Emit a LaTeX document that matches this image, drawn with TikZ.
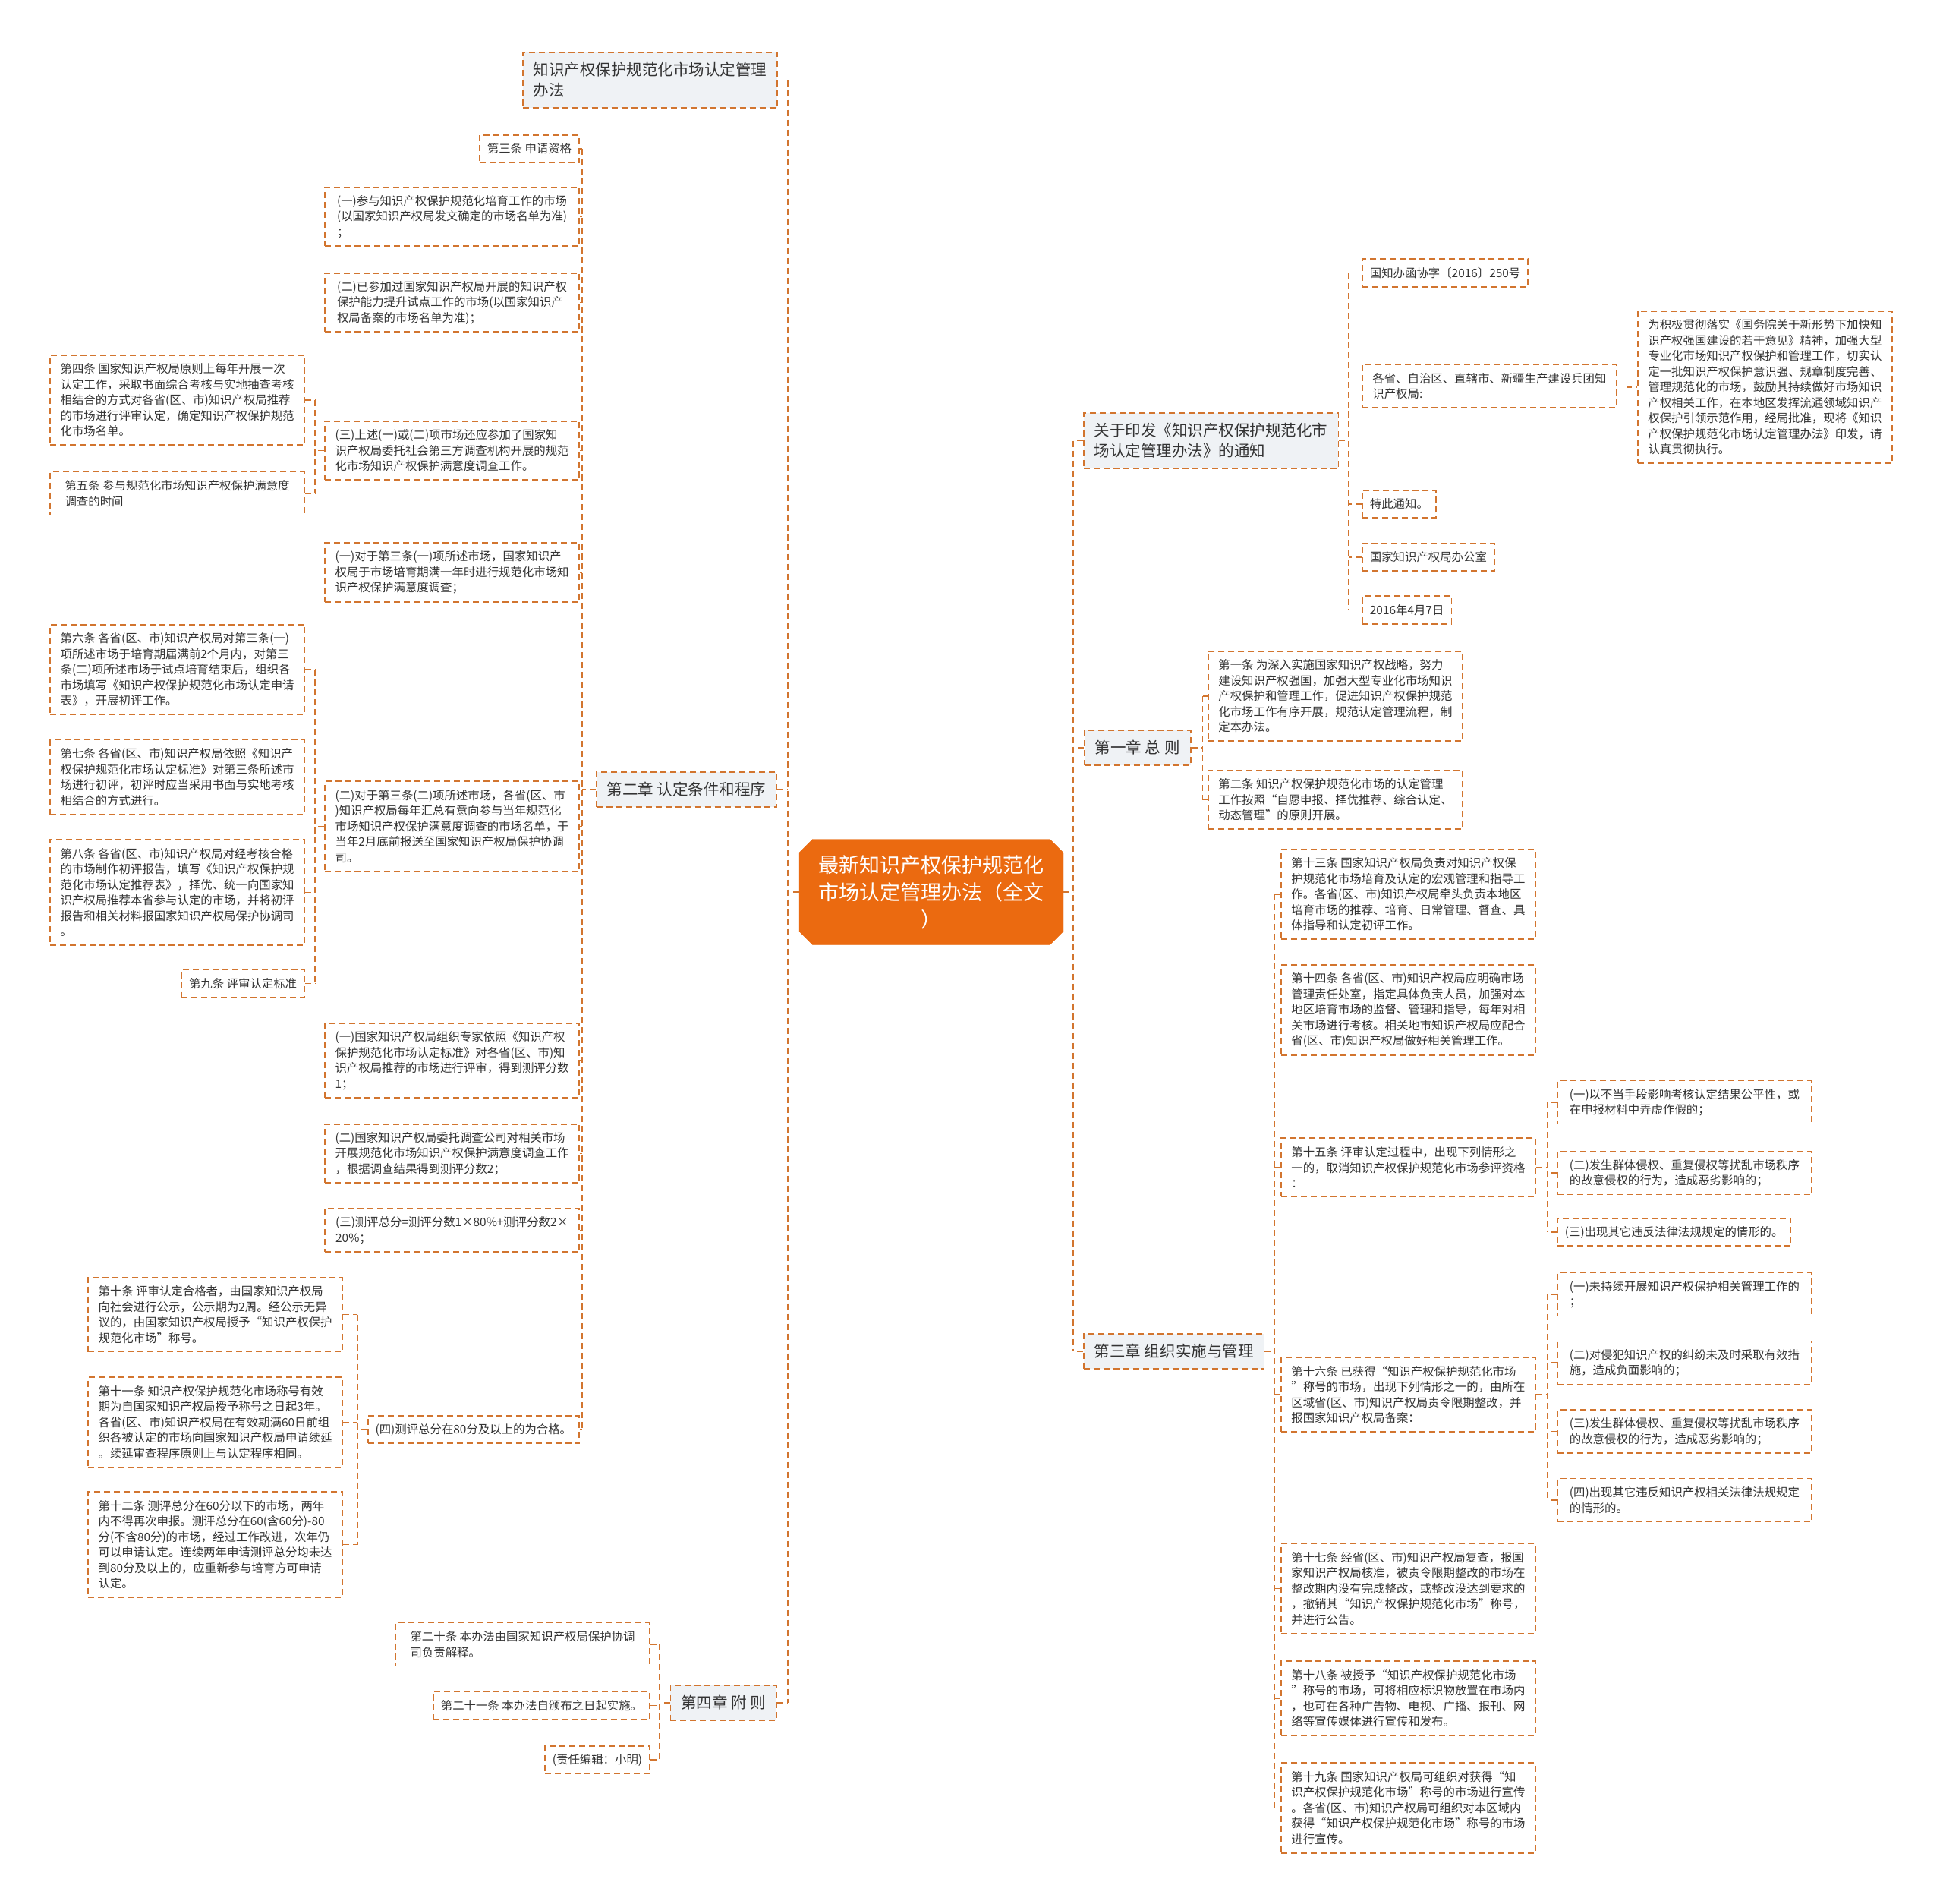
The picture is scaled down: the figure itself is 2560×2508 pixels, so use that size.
\documentclass[tikz,border=0pt]{standalone}
\usepackage{fontspec}
\setmainfont{Noto Sans CJK SC}
\usetikzlibrary{shapes.misc}
\definecolor{ink}{HTML}{333333}
\definecolor{wire}{HTML}{D2752F}
\definecolor{wash}{HTML}{EFF2F5}
\definecolor{core}{HTML}{EB6A10}
\tikzset{
  conn/.style={draw=wire, line width=1.8pt, dash pattern=on 8pt off 5pt},
  %
  leaf/.style={conn, fill=white, text=ink, align=left,
               inner xsep=10pt, inner ysep=8pt, font=\fontsize{15.4}{20.5}\selectfont},
  leafl/.style={leaf, anchor=east},
  leafr/.style={leaf, anchor=west},
  wide/.style={minimum width=335pt},
  nrows/.style={minimum height={20.5*#1+16}},
  %
  topic/.style={leaf, fill=wash, inner xsep=14pt, font=\fontsize{20.5}{27}\selectfont},
  topicl/.style={topic, anchor=east},
  topicr/.style={topic, anchor=west},
  trows/.style={minimum height={27*#1+19}},
  %
  hub/.style={chamfered rectangle, chamfered rectangle xsep=14pt, fill=core, draw=core,
              text=white, align=center, font=\fontsize{27}{36}\selectfont,
              minimum width=348pt, minimum height=139pt},
}

\begin{document}
\begin{tikzpicture}[x=1pt, y=-1pt]

  \useasboundingbox (0,0) rectangle (2560,2508);
  \fill[white] (0,0) rectangle (2560,2508);

  \node[hub] (root) at (1227,1175) {最新知识产权保护规范化\\市场认定管理办法（全文\\）};

  % left branches
  \node[topicl, trows=2] (t1)  at (1025,105.5) {知识产权保护规范化市场认定管理\\办法};
  \node[topicl, trows=1] (ch2) at (1024,1040)  {第二章 认定条件和程序};
  \node[topicl, trows=1] (ch4) at (1024,2243)  {第四章 附 则};

  \node[leafl, nrows=1] (s3) at (764,196) {第三条 申请资格};
  \node[leafl, wide, nrows=3] (a1) at (764,285.5) {(一)参与知识产权保护规范化培育工作的市场\\(以国家知识产权局发文确定的市场名单为准)\\；};
  \node[leafl, wide, nrows=3] (a2) at (764,398.5) {(二)已参加过国家知识产权局开展的知识产权\\保护能力提升试点工作的市场(以国家知识产\\权局备案的市场名单为准)；};
  \node[leafl, wide, nrows=3] (a3) at (764,593.5) {(三)上述(一)或(二)项市场还应参加了国家知\\识产权局委托社会第三方调查机构开展的规范\\化市场知识产权保护满意度调查工作。};
  \node[leafl, wide, nrows=3] (a4) at (764,754) {(一)对于第三条(一)项所述市场，国家知识产\\权局于市场培育期满一年时进行规范化市场知\\识产权保护满意度调查；};
  \node[leafl, wide, nrows=5] (a5) at (764,1088.5) {(二)对于第三条(二)项所述市场，各省(区、市\\)知识产权局每年汇总有意向参与当年规范化\\市场知识产权保护满意度调查的市场名单，于\\当年2月底前报送至国家知识产权局保护协调\\司。};
  \node[leafl, wide, nrows=4] (a6) at (764,1397) {(一)国家知识产权局组织专家依照《知识产权\\保护规范化市场认定标准》对各省(区、市)知\\识产权局推荐的市场进行评审，得到测评分数\\1；};
  \node[leafl, wide, nrows=3] (a7) at (764,1519.5) {(二)国家知识产权局委托调查公司对相关市场\\开展规范化市场知识产权保护满意度调查工作\\，根据调查结果得到测评分数2；};
  \node[leafl, wide, nrows=2] (a8) at (764,1620.5) {(三)测评总分=测评分数1×80\%+测评分数2×\\20\%；};
  \node[leafl, nrows=1] (a9) at (764,1883) {(四)测评总分在80分及以上的为合格。};

  \node[leafl, wide, nrows=5] (s4) at (402,527) {第四条 国家知识产权局原则上每年开展一次\\认定工作，采取书面综合考核与实地抽查考核\\相结合的方式对各省(区、市)知识产权局推荐\\的市场进行评审认定，确定知识产权保护规范\\化市场名单。};
  \node[leafl, wide, nrows=2] (s5) at (402,650) {第五条 参与规范化市场知识产权保护满意度\\调查的时间};
  \node[leafl, wide, nrows=5] (s6) at (402,882) {第六条 各省(区、市)知识产权局对第三条(一)\\项所述市场于培育期届满前2个月内，对第三\\条(二)项所述市场于试点培育结束后，组织各\\市场填写《知识产权保护规范化市场认定申请\\表》，开展初评工作。};
  \node[leafl, wide, nrows=4] (s7) at (402,1023.5) {第七条 各省(区、市)知识产权局依照《知识产\\权保护规范化市场认定标准》对第三条所述市\\场进行初评，初评时应当采用书面与实地考核\\相结合的方式进行。};
  \node[leafl, wide, nrows=6] (s8) at (402,1175.5) {第八条 各省(区、市)知识产权局对经考核合格\\的市场制作初评报告，填写《知识产权保护规\\范化市场认定推荐表》，择优、统一向国家知\\识产权局推荐本省参与认定的市场，并将初评\\报告和相关材料报国家知识产权局保护协调司\\。};
  \node[leafl, nrows=1] (s9) at (402,1295.5) {第九条 评审认定标准};

  \node[leafl, wide, nrows=4] (s10) at (452,1731.5) {第十条 评审认定合格者，由国家知识产权局\\向社会进行公示，公示期为2周。经公示无异\\议的，由国家知识产权局授予“知识产权保护\\规范化市场”称号。};
  \node[leafl, wide, nrows=5] (s11) at (452,1873.5) {第十一条 知识产权保护规范化市场称号有效\\期为自国家知识产权局授予称号之日起3年。\\各省(区、市)知识产权局在有效期满60日前组\\织各被认定的市场向国家知识产权局申请续延\\。续延审查程序原则上与认定程序相同。};
  \node[leafl, wide, nrows=6] (s12) at (452,2034.5) {第十二条 测评总分在60分以下的市场，两年\\内不得再次申报。测评总分在60(含60分)-80\\分(不含80分)的市场，经过工作改进，次年仍\\可以申请认定。连续两年申请测评总分均未达\\到80分及以上的，应重新参与培育方可申请\\认定。};

  \node[leafl, wide, nrows=2] (s20) at (857,2166) {第二十条 本办法由国家知识产权局保护协调\\司负责解释。};
  \node[leafl, nrows=1] (s21) at (857,2246.5) {第二十一条 本办法自颁布之日起实施。};
  \node[leafl, nrows=1] (ed)  at (857,2318) {(责任编辑：小明)};

  % right branches
  \node[topicr, trows=2] (n0) at (1427,580.5) {关于印发《知识产权保护规范化市\\场认定管理办法》的通知};
  \node[topicr, trows=1] (c1) at (1428,985)   {第一章 总 则};
  \node[topicr, trows=1] (c3) at (1427,1780)  {第三章 组织实施与管理};

  \node[leafr, nrows=1] (n1) at (1794,359.5) {国知办函协字〔2016〕250号};
  \node[leafr, wide, nrows=2] (n2) at (1794,508.5) {各省、自治区、直辖市、新疆生产建设兵团知\\识产权局:};
  \node[leafr, wide, nrows=9] (n3) at (2157,510) {为积极贯彻落实《国务院关于新形势下加快知\\识产权强国建设的若干意见》精神，加强大型\\专业化市场知识产权保护和管理工作，切实认\\定一批知识产权保护意识强、规章制度完善、\\管理规范化的市场，鼓励其持续做好市场知识\\产权相关工作，在本地区发挥流通领域知识产\\权保护引领示范作用，经局批准，现将《知识\\产权保护规范化市场认定管理办法》印发，请\\认真贯彻执行。};
  \node[leafr, nrows=1] (n4) at (1794,664)   {特此通知。};
  \node[leafr, nrows=1] (n5) at (1794,734)   {国家知识产权局办公室};
  \node[leafr, nrows=1] (n6) at (1794,803.5) {2016年4月7日};

  \node[leafr, wide, nrows=5] (s1) at (1591,917) {第一条 为深入实施国家知识产权战略，努力\\建设知识产权强国，加强大型专业化市场知识\\产权保护和管理工作，促进知识产权保护规范\\化市场工作有序开展，规范认定管理流程，制\\定本办法。};
  \node[leafr, wide, nrows=3] (s2) at (1591,1053.5) {第二条 知识产权保护规范化市场的认定管理\\工作按照“自愿申报、择优推荐、综合认定、\\动态管理”的原则开展。};

  \node[leafr, wide, nrows=5] (s13) at (1687,1178) {第十三条 国家知识产权局负责对知识产权保\\护规范化市场培育及认定的宏观管理和指导工\\作。各省(区、市)知识产权局牵头负责本地区\\培育市场的推荐、培育、日常管理、督查、具\\体指导和认定初评工作。};
  \node[leafr, wide, nrows=5] (s14) at (1687,1330.5) {第十四条 各省(区、市)知识产权局应明确市场\\管理责任处室，指定具体负责人员，加强对本\\地区培育市场的监督、管理和指导，每年对相\\关市场进行考核。相关地市知识产权局应配合\\省(区、市)知识产权局做好相关管理工作。};
  \node[leafr, wide, nrows=3] (s15) at (1687,1537.5) {第十五条 评审认定过程中，出现下列情形之\\一的，取消知识产权保护规范化市场参评资格\\：};
  \node[leafr, wide, nrows=4] (s16) at (1687,1837) {第十六条 已获得“知识产权保护规范化市场\\”称号的市场，出现下列情形之一的，由所在\\区域省(区、市)知识产权局责令限期整改，并\\报国家知识产权局备案：};
  \node[leafr, wide, nrows=5] (s17) at (1687,2092.5) {第十七条 经省(区、市)知识产权局复查，报国\\家知识产权局核准，被责令限期整改的市场在\\整改期内没有完成整改，或整改没达到要求的\\，撤销其“知识产权保护规范化市场”称号，\\并进行公告。};
  \node[leafr, wide, nrows=4] (s18) at (1687,2237) {第十八条 被授予“知识产权保护规范化市场\\”称号的市场，可将相应标识物放置在市场内\\，也可在各种广告物、电视、广播、报刊、网\\络等宣传媒体进行宣传和发布。};
  \node[leafr, wide, nrows=5] (s19) at (1687,2381.5) {第十九条 国家知识产权局可组织对获得“知\\识产权保护规范化市场”称号的市场进行宣传\\。各省(区、市)知识产权局可组织对本区域内\\获得“知识产权保护规范化市场”称号的市场\\进行宣传。};

  \node[leafr, wide, nrows=2] (r1) at (2051,1452) {(一)以不当手段影响考核认定结果公平性，或\\在申报材料中弄虚作假的；};
  \node[leafr, wide, nrows=2] (r2) at (2051,1545) {(二)发生群体侵权、重复侵权等扰乱市场秩序\\的故意侵权的行为，造成恶劣影响的；};
  \node[leafr, nrows=1]       (r3) at (2051,1623) {(三)出现其它违反法律法规规定的情形的。};

  \node[leafr, wide, nrows=2] (q1) at (2051,1705)   {(一)未持续开展知识产权保护相关管理工作的\\；};
  \node[leafr, wide, nrows=2] (q2) at (2051,1795)   {(二)对侵犯知识产权的纠纷未及时采取有效措\\施，造成负面影响的；};
  \node[leafr, wide, nrows=2] (q3) at (2051,1885.5) {(三)发生群体侵权、重复侵权等扰乱市场秩序\\的故意侵权的行为，造成恶劣影响的；};
  \node[leafr, wide, nrows=2] (q4) at (2051,1976)   {(四)出现其它违反知识产权相关法律法规规定\\的情形的。};

  % connectors, left side
  \coordinate (kL) at ([xshift=-15]root.west);
  \draw[conn] (root.west) -- (kL);
  \draw[conn] (kL |- t1.east) -- (kL |- ch4.east);
  \foreach \kid in {t1,ch2,ch4}
    \draw[conn] (\kid.east) -- (kL |- \kid.east);

  \coordinate (k2) at ([xshift=-18]ch2.west);
  \draw[conn] (ch2.west) -- (k2);
  \draw[conn] (k2 |- s3.east) -- (k2 |- a9.east);
  \foreach \kid in {s3,a1,a2,a3,a4,a5,a6,a7,a8,a9}
    \draw[conn] (\kid.east) -- (k2 |- \kid.east);

  \coordinate (k3) at ([xshift=-12]a3.west);
  \draw[conn] (a3.west) -- (k3);
  \draw[conn] (k3 |- s4.east) -- (k3 |- s5.east);
  \foreach \kid in {s4,s5}
    \draw[conn] (\kid.east) -- (k3 |- \kid.east);

  \coordinate (k5) at ([xshift=-12]a5.west);
  \draw[conn] (a5.west) -- (k5);
  \draw[conn] (k5 |- s6.east) -- (k5 |- s9.east);
  \foreach \kid in {s6,s7,s8,s9}
    \draw[conn] (\kid.east) -- (k5 |- \kid.east);

  \coordinate (k9) at ([xshift=-13]a9.west);
  \draw[conn] (a9.west) -- (k9);
  \draw[conn] (k9 |- s10.east) -- (k9 |- s12.east);
  \foreach \kid in {s10,s11,s12}
    \draw[conn] (\kid.east) -- (k9 |- \kid.east);

  \coordinate (k4) at ([xshift=-14]ch4.west);
  \draw[conn] (ch4.west) -- (k4);
  \draw[conn] (k4 |- s20.east) -- (k4 |- ed.east);
  \foreach \kid in {s20,s21,ed}
    \draw[conn] (\kid.east) -- (k4 |- \kid.east);

  % connectors, right side
  \coordinate (kR) at ([xshift=13]root.east);
  \draw[conn] (root.east) -- (kR);
  \draw[conn] (kR |- n0.west) -- (kR |- c3.west);
  \foreach \kid in {n0,c1,c3}
    \draw[conn] (\kid.west) -- (kR |- \kid.west);

  \coordinate (kn) at ([xshift=13]n0.east);
  \draw[conn] (n0.east) -- (kn);
  \draw[conn] (kn |- n1.west) -- (kn |- n6.west);
  \foreach \kid in {n1,n2,n4,n5,n6}
    \draw[conn] (\kid.west) -- (kn |- \kid.west);
  \draw[conn] (n2.east) -- ++(13,0) |- (n3.west);

  \coordinate (kc1) at ([xshift=15]c1.east);
  \draw[conn] (c1.east) -- (kc1);
  \draw[conn] (kc1 |- s1.west) -- (kc1 |- s2.west);
  \foreach \kid in {s1,s2}
    \draw[conn] (\kid.west) -- (kc1 |- \kid.west);

  \coordinate (kc3) at ([xshift=13]c3.east);
  \draw[conn] (c3.east) -- (kc3);
  \draw[conn] (kc3 |- s13.west) -- (kc3 |- s19.west);
  \foreach \kid in {s13,s14,s15,s16,s17,s18,s19}
    \draw[conn] (\kid.west) -- (kc3 |- \kid.west);

  \coordinate (k15) at ([xshift=15]s15.east);
  \draw[conn] (s15.east) -- (k15);
  \draw[conn] (k15 |- r1.west) -- (k15 |- r3.west);
  \foreach \kid in {r1,r2,r3}
    \draw[conn] (\kid.west) -- (k15 |- \kid.west);

  \coordinate (k16) at ([xshift=15]s16.east);
  \draw[conn] (s16.east) -- (k16);
  \draw[conn] (k16 |- q1.west) -- (k16 |- q4.west);
  \foreach \kid in {q1,q2,q3,q4}
    \draw[conn] (\kid.west) -- (k16 |- \kid.west);

\end{tikzpicture}
\end{document}
